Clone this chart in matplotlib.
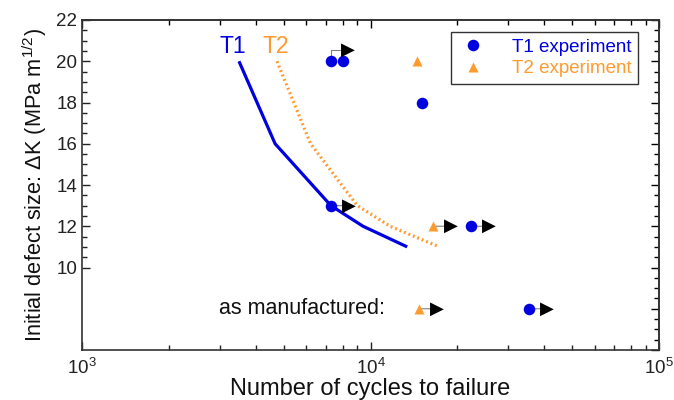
import matplotlib
matplotlib.use("Agg")
import matplotlib.pyplot as plt
from matplotlib.ticker import LogLocator, FixedLocator, NullFormatter
import numpy as np

plt.rcParams['font.family'] = ['Liberation Sans', 'DejaVu Sans']
plt.rcParams['mathtext.fontset'] = 'custom'
plt.rcParams['mathtext.rm'] = 'Liberation Sans'
plt.rcParams['mathtext.it'] = 'Liberation Sans:italic'
plt.rcParams['mathtext.default'] = 'regular'

# ---- data ----
t1_curve_cycles = [3500, 4670, 7290, 9420, 13400]
t1_curve_dk = [20, 16, 13, 12, 11]
t2_curve_cycles = [4740, 6200, 9000, 11700, 17300]
t2_curve_dk = [20, 16, 13, 12, 11]

t1_exp_cycles = [7290, 8040, 15070, 7290, 22300, 35400]
t1_exp_dk = [20, 20, 18, 13, 12, 8]
t1_runout = [True, False, False, True, True, True]

t2_exp_cycles = [14500, 16500, 14700]
t2_exp_dk = [20, 12, 8]
t2_runout = [False, True, True]

blue = '#0000E0'
orange = '#FF9A2E'

fig = plt.figure(figsize=(6.74, 4.0), dpi=100)
ax = fig.add_axes([82/674, 50/400, 577/674, 330/400])

ax.set_xscale('log')
ax.set_xlim(1e3, 1e5)
ax.set_ylim(6, 22)

ax.plot(t1_curve_cycles, t1_curve_dk, color=blue, lw=2.3, solid_capstyle='butt', zorder=3)
ax.plot(t2_curve_cycles, t2_curve_dk, color=orange, lw=2.3, ls=(0, (0.6, 0.9)), zorder=3)

# curve labels
ax.annotate('T1', xy=(t1_curve_cycles[0], t1_curve_dk[0]), xytext=(-6, 15),
            textcoords='offset pixels', ha='center', va='center', color=blue, fontsize=16.5)
ax.annotate('T2', xy=(t2_curve_cycles[0], t2_curve_dk[0]), xytext=(-1, 15),
            textcoords='offset pixels', ha='center', va='center', color=orange, fontsize=16.5)

ax.plot(t1_exp_cycles, t1_exp_dk, 'o', color=blue, ms=8.3, mec='none', zorder=5, label='T1 experiment')
ax.plot(t2_exp_cycles, t2_exp_dk, '^', color=orange, ms=7.5, mec='none', zorder=5, label='T2 experiment')

def runout(x, y, bent=False):
    if bent:
        off = (17, 11)
        ax.annotate('', xy=(x, y), xytext=off, textcoords='offset pixels',
                    arrowprops=dict(arrowstyle='-', color='gray', lw=0.8, shrinkA=0, shrinkB=0,
                                    connectionstyle='angle,angleA=0,angleB=90,rad=0'), zorder=2)
    else:
        off = (18, 0)
        ax.annotate('', xy=(x, y), xytext=off, textcoords='offset pixels',
                    arrowprops=dict(arrowstyle='-', color='gray', lw=0.8, shrinkA=0, shrinkB=0), zorder=2)
    ax.annotate('\u25B6', xy=(x, y), xytext=off, textcoords='offset pixels',
                ha='center', va='center', fontsize=13, color='black',
                family='DejaVu Sans', zorder=6)

for x, y, r in zip(t1_exp_cycles, t1_exp_dk, t1_runout):
    if r:
        runout(x, y, bent=(y == 20))
for x, y, r in zip(t2_exp_cycles, t2_exp_dk, t2_runout):
    if r:
        runout(x, y)

ax.annotate('as manufactured:', xy=(t2_exp_cycles[2], t2_exp_dk[2]), xytext=(-34, 0),
            textcoords='offset pixels', ha='right', va='center', fontsize=15.5, color='#111111')

# ticks
ax.yaxis.set_major_locator(FixedLocator(np.arange(10, 23, 2)))
ax.yaxis.set_minor_locator(FixedLocator(np.arange(10, 22.01, 0.5)))
ax.xaxis.set_major_locator(LogLocator(base=10, numticks=10))
ax.xaxis.set_minor_locator(LogLocator(base=10, subs=np.arange(2, 10), numticks=20))
ax.xaxis.set_minor_formatter(NullFormatter())
ax.tick_params(which='both', direction='in', labelsize=13.5, colors='#222222')
ax.tick_params(which='major', length=6, width=1)
ax.tick_params(which='minor', length=3.5, width=1)
ax.tick_params(axis='x', pad=6)

secy = ax.secondary_yaxis('right')
secy.yaxis.set_major_locator(FixedLocator(np.arange(6, 23, 2)))
secy.yaxis.set_minor_locator(FixedLocator(np.arange(6, 22.01, 0.5)))
secy.tick_params(which='both', direction='in', labelright=False)
secy.tick_params(which='major', length=6, width=1)
secy.tick_params(which='minor', length=3.5, width=1)

secx = ax.secondary_xaxis('top')
secx.xaxis.set_major_locator(LogLocator(base=10, numticks=10))
secx.xaxis.set_minor_locator(LogLocator(base=10, subs=np.arange(2, 10), numticks=20))
secx.tick_params(which='both', direction='in', labeltop=False)
secx.tick_params(which='major', length=6, width=1)
secx.tick_params(which='minor', length=3.5, width=1)
secx.xaxis.set_minor_formatter(NullFormatter())

for sp in list(ax.spines.values()) + list(secx.spines.values()) + list(secy.spines.values()):
    sp.set_linewidth(1.2)
    sp.set_color('#333333')

ax.set_xlabel('Number of cycles to failure', fontsize=17, labelpad=0, color='#111111')
ax.set_ylabel(r'Initial defect size: $\Delta$K (MPa m$^{1/2}$)', fontsize=15.7, labelpad=5, color='#111111')

leg = ax.legend(loc='upper right', bbox_to_anchor=(0.964, 0.964), borderaxespad=0,
                fancybox=False, edgecolor='#333333', fontsize=13.5, handlelength=1.6,
                handletextpad=1.3, borderpad=0.35, labelspacing=0.25, framealpha=1)
leg.get_frame().set_linewidth(1.0)
for txt, c in zip(leg.get_texts(), [blue, orange]):
    txt.set_color(c)

fig.savefig('out.png', dpi=100)
